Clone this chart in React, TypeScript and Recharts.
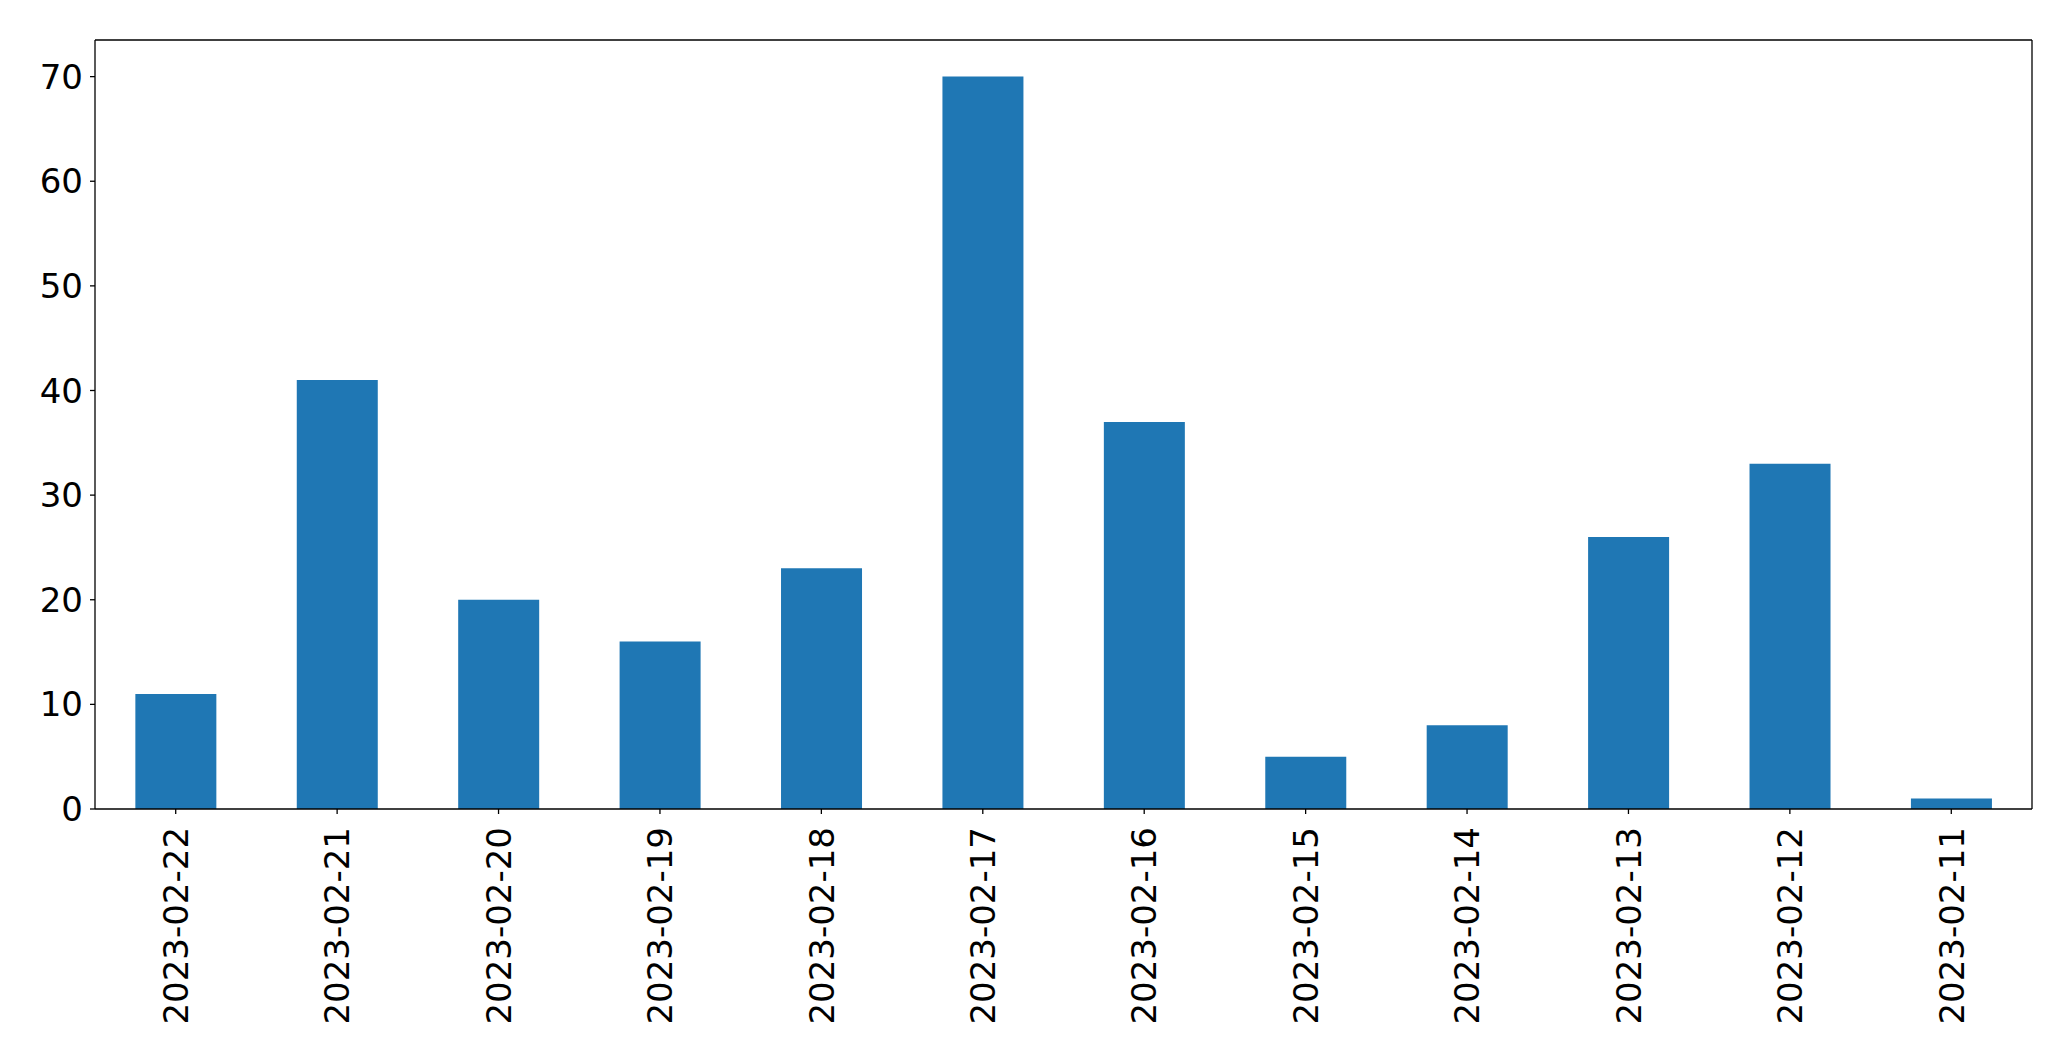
import React from 'react';
import { BarChart, Bar, XAxis, YAxis } from 'recharts';

const categories = ['2023-02-22', '2023-02-21', '2023-02-20', '2023-02-19', '2023-02-18', '2023-02-17', '2023-02-16', '2023-02-15', '2023-02-14', '2023-02-13', '2023-02-12', '2023-02-11'];
const counts = [11, 41, 20, 16, 23, 70, 37, 5, 8, 26, 33, 1];
const yTicks = [0, 10, 20, 30, 40, 50, 60, 70];

const data = categories.map((c, i) => ({ date: c, count: counts[i] }));

const FONT = 'DejaVu Sans';
const FS = 34;

const XTick = (props: any) => {
  const { x, y, payload } = props;
  return (
    <text
      x={x}
      y={y}
      transform={`rotate(-90, ${x}, ${y})`}
      textAnchor="end"
      dy="0.36em"
      fontFamily={FONT}
      fontSize={FS}
      fill="#000"
    >
      {payload.value}
    </text>
  );
};

export default function App() {
  return (
    <div style={{ position: 'absolute', left: 0, top: 0, width: 2071, height: 1061, background: '#fff' }}>
      <BarChart
        width={2071}
        height={1061}
        data={data}
        margin={{ top: 39, right: 38, left: 0, bottom: 0 }}
        barCategoryGap="25%"
      >
        <XAxis
          dataKey="date"
          height={252}
          interval={0}
          tickSize={5}
          tickMargin={13}
          tick={<XTick />}
          axisLine={{ stroke: '#000', strokeWidth: 1.3 }}
          tickLine={{ stroke: '#000', strokeWidth: 1.3 }}
        />
        <XAxis
          xAxisId="top"
          dataKey="date"
          orientation="top"
          height={1}
          tick={false}
          tickLine={false}
          axisLine={{ stroke: '#000', strokeWidth: 1.3 }}
        />
        <YAxis
          width={95}
          domain={[0, 73.5]}
          ticks={yTicks}
          tickSize={5}
          tickMargin={7}
          allowDataOverflow
          tick={{ fontFamily: FONT, fontSize: FS, fill: '#000' }}
          axisLine={{ stroke: '#000', strokeWidth: 1.3 }}
          tickLine={{ stroke: '#000', strokeWidth: 1.3 }}
        />
        <YAxis
          yAxisId="right"
          orientation="right"
          width={1}
          domain={[0, 73.5]}
          tick={false}
          tickLine={false}
          axisLine={{ stroke: '#000', strokeWidth: 1.3 }}
        />
        <Bar dataKey="count" fill="#1f77b4" isAnimationActive={false} />
        <Bar dataKey="count" xAxisId="top" yAxisId="right" fill="none" legendType="none" isAnimationActive={false} />
      </BarChart>
    </div>
  );
}
